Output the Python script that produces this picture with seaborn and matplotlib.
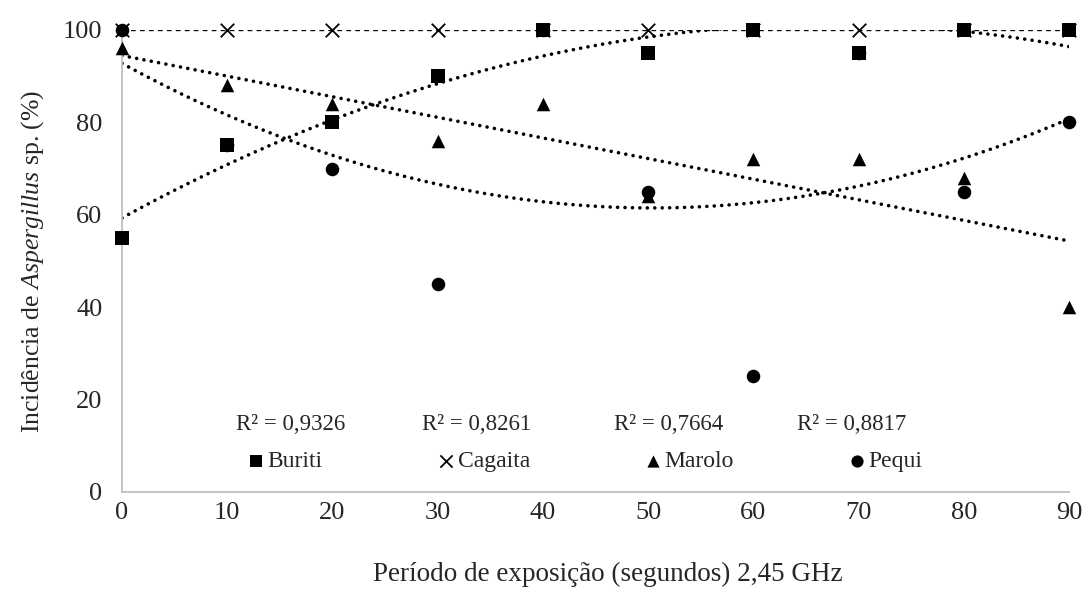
import numpy as np
import pandas as pd
import matplotlib
matplotlib.use('Agg')
import matplotlib.pyplot as plt
import seaborn as sns

# Exposure time (s) and incidence of Aspergillus sp. (%) per fruit
tempo = [0, 10, 20, 30, 40, 50, 60, 70, 80, 90]
buriti = [55, 75, 80, 90, 100, 95, 100, 95, 100, 100]
cagaita = [100, 100, 100, 100, 100, 100, 100, 100, 100, 100]
marolo = [96, 88, 84, 76, 84, 64, 72, 72, 68, 40]
# pequi points at 10, 40 and 70 s sit under the buriti squares
pequi = [100, 75, 70, 45, 100, 65, 25, 95, 65, 80]

r2_labels = ['R² = 0,9326', 'R² = 0,8261', 'R² = 0,7664', 'R² = 0,8817']

sns.set_theme(style='white')
plt.rcParams['font.family'] = ['Liberation Serif', 'DejaVu Serif']
plt.rcParams['mathtext.fontset'] = 'custom'
plt.rcParams['mathtext.rm'] = 'Liberation Serif'
plt.rcParams['mathtext.it'] = 'Liberation Serif:italic'

fig = plt.figure(figsize=(10.83, 6.01), dpi=100)
ax = fig.add_axes([0.1127, 0.1814, 0.8744, 0.7687])

# name, values, marker, trend order (drawing order: last on top)
series = [
    ('Marolo', marolo, '^', 1),
    ('Pequi', pequi, 'o', 2),
    ('Buriti', buriti, 's', 2),
    ('Cagaita', cagaita, 'x', 1),
]

# dotted trend lines as in Excel
for name, y, mk, order in series:
    df = pd.DataFrame({'x': tempo, 'y': y})
    if name == 'Cagaita':
        lk = dict(color='black', lw=1.7, linestyle=(0, (2, 1.8)))
    else:
        lk = dict(color='black', lw=2.6, linestyle=(0, (0.01, 2.05)),
                  dash_capstyle='round')
    sns.regplot(data=df, x='x', y='y', order=order, scatter=False, ci=None,
                truncate=True, ax=ax, line_kws=lk)

for name, y, mk, order in series:
    df = pd.DataFrame({'x': tempo, 'y': y})
    if mk == 'x':
        kw = dict(s=95, color='black', linewidth=1.3)
    else:
        kw = dict(s=95, color='black', edgecolor='black', linewidth=0)
    sns.scatterplot(data=df, x='x', y='y', marker=mk, ax=ax, zorder=3,
                    clip_on=False, label=name, **kw)

ax.set_xlim(0, 90)
ax.set_ylim(0, 100)
ax.set_xticks(range(0, 91, 10))
ax.set_yticks(range(0, 101, 20))
ax.tick_params(axis='both', length=0, labelsize=19)
ax.tick_params(axis='y', pad=14)
ax.tick_params(axis='x', pad=7)

for side in ['top', 'right']:
    ax.spines[side].set_visible(False)
for side in ['left', 'bottom']:
    ax.spines[side].set_color('#bfbfbf')
    ax.spines[side].set_linewidth(1.3)

ax.set_xlabel('Período de exposição (segundos) 2,45 GHz', fontsize=19.5)
ax.xaxis.set_label_coords(0.513, -0.152)
ax.set_ylabel(r'Incidência de $\mathit{Aspergillus}$ sp. (%)', fontsize=18.5, labelpad=12)

for i, txt in enumerate(r2_labels):
    ax.text([0.120, 0.317, 0.520, 0.713][i], 0.147, txt, transform=ax.transAxes,
            fontsize=16.5, ha='left', va='center')

handles, labels = ax.get_legend_handles_labels()
order = [labels.index(n) for n in ['Buriti', 'Cagaita', 'Marolo', 'Pequi']]
ax.legend([handles[i] for i in order], [labels[i] for i in order],
          loc='center left', bbox_to_anchor=(0.134, 0.067), ncol=4,
          frameon=False, fontsize=17, handlelength=0.6, handletextpad=0.2,
          columnspacing=4.9, markerscale=0.9, borderpad=0, borderaxespad=0)

fig.savefig('out.png', dpi=100)
